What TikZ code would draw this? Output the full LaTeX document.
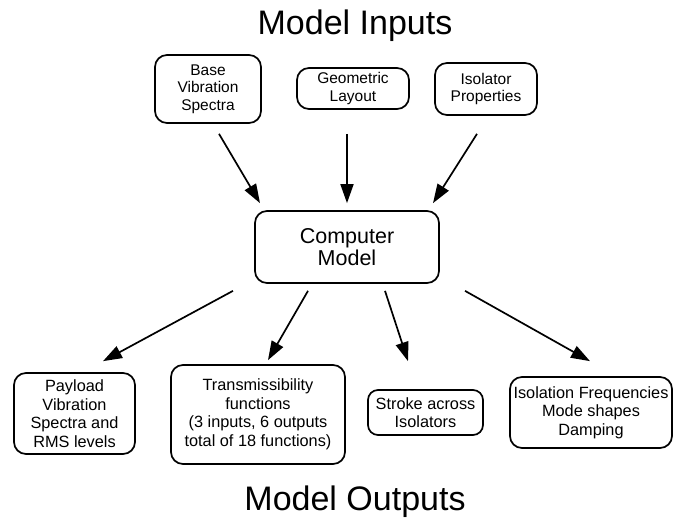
\documentclass[tikz,border=0pt]{standalone}
\usepackage{fontspec}
\setmainfont{Liberation Sans}
\usetikzlibrary{arrows.meta}

\begin{document}
\begin{tikzpicture}[x=1pt,y=-1pt,
    box/.style={draw,line width=1.7pt,rounded corners=12pt,align=center,inner sep=0pt},
    inbox/.style={box,font=\fontsize{15.5}{17.5}\selectfont},
    outbox/.style={box,font=\fontsize{16.3}{18.5}\selectfont},
    arr/.style={line width=1.7pt,-{Triangle[length=19pt,width=13pt]}},
    title/.style={font=\fontsize{34}{34}\selectfont,anchor=base}]
    % Fix the page to the size of the reference
    \useasboundingbox (0,0) rectangle (673,527);

    % Titles
    \node[title] (tin) at (355,35) {Model Inputs};
    \node[title] (tout) at (355,510) {Model Outputs};

    % Input boxes
    \node[inbox,minimum width=106pt,minimum height=68pt] (base) at (208,89) {Base\\Vibration\\Spectra};
    \node[inbox,minimum width=112pt,minimum height=41pt] (geo) at (353,88.5) {Geometric\\Layout};
    \node[inbox,minimum width=102pt,minimum height=52pt] (iso) at (486,89) {Isolator\\Properties};

    % The model in the middle
    \node[box,minimum width=184pt,minimum height=72pt,font=\fontsize{21.5}{22}\selectfont] (model) at (347,247) {Computer\\Model};

    % Output boxes
    \node[outbox,minimum width=121pt,minimum height=81pt] (pay) at (74.5,413.5) {Payload\\Vibration\\Spectra and\\RMS levels};
    \node[outbox,minimum width=174pt,minimum height=99pt] (trans) at (258,414.5) {Transmissibility\\functions\\(3 inputs, 6 outputs\\total of 18 functions)};
    \node[outbox,minimum width=115pt,minimum height=45pt,rounded corners=10pt] (stroke) at (425.5,412.5) {Stroke across\\Isolators};
    \node[outbox,minimum width=162pt,minimum height=71pt] (freq) at (591,412.5) {Isolation Frequencies\\Mode shapes\\Damping};

    % Arrows into the model
    \draw[arr] ([shift={(11,10)}]base.south) -- ([shift={(-87,-7)}]model.north);
    \draw[arr] ([shift={(-6,24)}]geo.south) -- ([shift={(0,-7)}]model.north);
    \draw[arr] ([shift={(-9,18)}]iso.south) -- ([shift={(86,-7)}]model.north);

    % Arrows out of the model
    \draw[arr] ([shift={(-114,7)}]model.south) -- ([shift={(28.5,-11)}]pay.north);
    \draw[arr] ([shift={(-39,7)}]model.south) -- ([shift={(10,-4)}]trans.north);
    \draw[arr] ([shift={(38,7)}]model.south) -- ([shift={(-17.5,-28)}]stroke.north);
    \draw[arr] ([shift={(118,7)}]model.south) -- ([shift={(-1,-15)}]freq.north);
\end{tikzpicture}
\end{document}
